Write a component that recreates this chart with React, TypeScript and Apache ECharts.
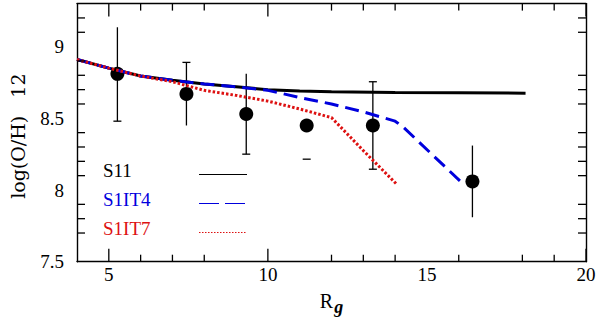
import React, { useEffect, useRef } from "react";
import * as echarts from "echarts";

// ---- data ----
const xRange = [4, 20];
const yRange = [7.5, 9.3];
const xLabelValues = [5, 10, 15, 20];
const yLabelValues = [7.5, 8, 8.5, 9];
const xMajorTicks = [5, 10, 20];
const xMinorTicks = [6, 7, 8, 12, 13, 14, 16, 18, 19];
const yTicksLeft = [9.2, 9.1, 8.9, 8.8, 8.7, 8.6, 8.4, 8.3, 8.2, 8.1, 7.9, 7.8, 7.7];
const yTicksRight = [9.2, 9.1, 8.8, 8.7, 8.6, 8.4, 8.3, 8.2, 8.1, 7.9, 7.8, 7.7];

const seriesNames = ["S11", "S1IT4", "S1IT7"];

const s11X = [4, 5, 6, 7, 8, 9, 10, 11, 12, 14, 16, 18.1];
const s11Y = [8.91, 8.85, 8.795, 8.765, 8.74, 8.72, 8.7, 8.69, 8.685, 8.68, 8.678, 8.675];

const s1it4X = [4, 5, 6, 7, 8, 9, 10, 11, 12, 13, 14, 14.25, 16.1];
const s1it4Y = [8.91, 8.85, 8.795, 8.765, 8.74, 8.72, 8.695, 8.645, 8.6, 8.545, 8.48, 8.44, 8.05];

const s1it7X = [4, 5, 6, 7, 8, 9, 10, 11, 12, 13, 14.05];
const s1it7Y = [8.91, 8.85, 8.795, 8.755, 8.695, 8.66, 8.62, 8.565, 8.505, 8.275, 8.04];

const obsX = [5.27, 7.44, 9.32, 11.22, 13.3, 16.43];
const obsY = [8.81, 8.67, 8.53, 8.45, 8.45, 8.06];
const errLo = [8.48, 8.45, 8.25, 8.215, 8.145, 7.81];
const errHi = [9.135, 8.89, 8.81, 8.7, 8.755, 8.31];
const capLo = [1, 0, 1, 1, 1, 0];
const capHi = [0, 1, 0, 0, 1, 0];
const stem = [1, 1, 1, 0, 1, 1];

const FONT = "Liberation Serif";
const BLUE = "#0000dd";
const RED = "#dd1111";
const MAJOR_LEN = 13;
const MINOR_LEN = 7;
const Y_LEN = 8;
const TICK_W = 1.3;

const pairs = (xs: number[], ys: number[]) => xs.map((x, i) => [x, ys[i]]);

export default function App() {
  const ref = useRef<HTMLDivElement>(null);

  useEffect(() => {
    if (!ref.current) return;
    const chart = echarts.init(ref.current, null, { renderer: "svg" });

    const frameLine = { show: true, onZero: false, lineStyle: { color: "#000", width: 1.4 } };

    const mkLine = (x1: number, y1: number, x2: number, y2: number) => ({
      type: "line",
      shape: { x1, y1, x2, y2 },
      style: { stroke: "#000", lineWidth: 1.3 },
    });

    // frame ticks drawn as thin rectangular symbols anchored on the frame, pointing inward
    const tickMarks = (data: number[][], size: number[], offset: number[]) => ({
      type: "scatter",
      name: "tick",
      symbol: "rect",
      symbolSize: size,
      symbolOffset: offset,
      clip: false,
      z: 6,
      itemStyle: { color: "#000", opacity: 1 },
      emphasis: { disabled: true },
      data,
    });

    const option: any = {
      animation: false,
      backgroundColor: "#fff",
      textStyle: { fontFamily: FONT },
      grid: { left: 69.3, right: 14, top: 3.6, bottom: 60.3, show: false },
      legend: {
        orient: "vertical",
        left: 103,
        top: 161,
        padding: 0,
        align: "right",
        itemWidth: 48,
        itemHeight: 14,
        itemGap: 2,
        formatter: (n: string) => `{t|${n}}`,
        itemStyle: { color: "rgba(0,0,0,0)", borderColor: "rgba(0,0,0,0)", borderWidth: 0 },
        textStyle: {
          fontFamily: FONT,
          fontSize: 19,
          rich: {
            t: { width: 91, align: "left", fontFamily: FONT, fontSize: 19, lineHeight: 18, padding: [0, 0, 8, 0] },
          },
        },
        data: [
          { name: seriesNames[0], textStyle: { color: "#000" }, lineStyle: { width: 1.2, type: "solid" } },
          { name: seriesNames[1], textStyle: { color: BLUE }, lineStyle: { width: 1.2, type: [20, 6] } },
          { name: seriesNames[2], textStyle: { color: RED }, lineStyle: { width: 1.2, type: [1.5, 1.5] } },
        ],
      },
      xAxis: [
        {
          type: "value",
          min: xRange[0],
          max: xRange[1],
          interval: 1,
          splitLine: { show: false },
          position: "bottom",
          axisLine: frameLine,
          axisTick: { show: false },
          axisLabel: {
            show: true,
            customValues: xLabelValues,
            color: "#000",
            fontFamily: FONT,
            fontSize: 19,
            margin: 3,
          },
          name: "{r|R}{g|g}",
          nameLocation: "middle",
          nameGap: 31.5,
          nameTextStyle: {
            color: "#000",
            rich: {
              r: { fontFamily: FONT, fontSize: 20, lineHeight: 20, padding: [0, 0, 5, 0], color: "#000" },
              g: {
                fontFamily: FONT,
                fontSize: 18,
                lineHeight: 18,
                fontStyle: "italic",
                fontWeight: "bold",
                padding: [7, 0, 0, 1],
                color: "#000",
              },
            },
          },
        },
        {
          type: "value",
          min: xRange[0],
          max: xRange[1],
          interval: 1,
          splitLine: { show: false },
          axisTick: { show: false },
          position: "top",
          axisLine: frameLine,
          axisLabel: { show: false },
        },
      ],
      yAxis: [
        {
          type: "value",
          min: yRange[0],
          max: yRange[1],
          interval: 0.1,
          splitLine: { show: false },
          position: "left",
          axisLine: frameLine,
          axisTick: { show: false },
          axisLabel: {
            show: true,
            customValues: yLabelValues,
            color: "#000",
            fontFamily: FONT,
            fontSize: 19,
            margin: 13,
            formatter: (v: number) => String(v),
          },
          name: "log(O/H)   12",
          nameLocation: "middle",
          nameGap: 50,
          nameTextStyle: {
            color: "#000",
            fontFamily: "DejaVu Serif",
            fontSize: 19,
            padding: [0, 7, 0, 0],
          },
        },
        {
          type: "value",
          min: yRange[0],
          max: yRange[1],
          interval: 0.1,
          splitLine: { show: false },
          axisTick: { show: false },
          position: "right",
          axisLine: frameLine,
          axisLabel: { show: false },
        },
      ],
      series: [
        tickMarks(xMajorTicks.map((v) => [v, yRange[0]]), [TICK_W, MAJOR_LEN], [0, -MAJOR_LEN / 2]),
        tickMarks(xMinorTicks.map((v) => [v, yRange[0]]), [TICK_W, MINOR_LEN], [0, -MINOR_LEN / 2]),
        tickMarks(xMajorTicks.map((v) => [v, yRange[1]]), [TICK_W, MAJOR_LEN], [0, MAJOR_LEN / 2]),
        tickMarks(xMinorTicks.map((v) => [v, yRange[1]]), [TICK_W, MINOR_LEN], [0, MINOR_LEN / 2]),
        tickMarks(yTicksLeft.map((v) => [xRange[0], v]), [Y_LEN, TICK_W], [Y_LEN / 2, 0]),
        tickMarks(yTicksRight.map((v) => [xRange[1], v]), [Y_LEN, TICK_W], [-Y_LEN / 2, 0]),
        {
          type: "custom",
          name: "errors",
          data: obsX.map((x, i) => [x, errLo[i], errHi[i], capLo[i], capHi[i], stem[i]]),
          encode: { x: 0, y: [1, 2] },
          renderItem: (_p: any, api: any) => {
            const x = api.value(0);
            const lo = api.coord([x, api.value(1)]);
            const hi = api.coord([x, api.value(2)]);
            const children: any[] = [];
            if (api.value(5)) children.push(mkLine(lo[0], lo[1], hi[0], hi[1]));
            if (api.value(3)) children.push(mkLine(lo[0] - 4, lo[1], lo[0] + 4, lo[1]));
            if (api.value(4)) children.push(mkLine(hi[0] - 4, hi[1], hi[0] + 4, hi[1]));
            return { type: "group", children };
          },
        },
        {
          type: "scatter",
          name: "obs",
          symbol: "circle",
          symbolSize: 14,
          itemStyle: { color: "#000", opacity: 1 },
          data: pairs(obsX, obsY),
        },
        {
          type: "line",
          name: seriesNames[0],
          symbol: "none",
          color: "#000",
          lineStyle: { color: "#000", width: 3 },
          data: pairs(s11X, s11Y),
        },
        {
          type: "line",
          name: seriesNames[1],
          symbol: "none",
          color: BLUE,
          lineStyle: { color: BLUE, width: 3, type: [14, 7] },
          data: pairs(s1it4X, s1it4Y),
        },
        {
          type: "line",
          name: seriesNames[2],
          symbol: "none",
          color: RED,
          lineStyle: { color: RED, width: 3, type: [2.5, 2] },
          data: pairs(s1it7X, s1it7Y),
        },
      ],
    };
    chart.setOption(option);
    return () => chart.dispose();
  }, []);

  return <div ref={ref} style={{ width: 600, height: 322, position: "fixed", left: 0, top: 0 }} />;
}
